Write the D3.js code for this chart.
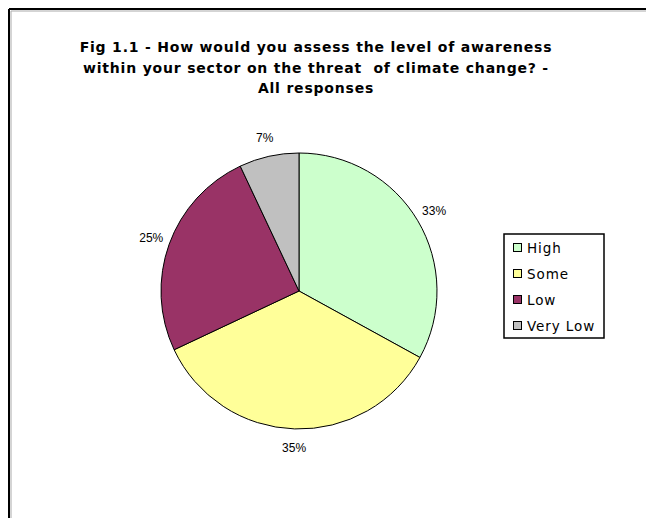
<!DOCTYPE html>
<html>
<head>
<meta charset="utf-8">
<script src="https://cdn.jsdelivr.net/npm/d3@7"></script>
<style>
  body { margin: 0; background: #fff; }
  svg { display: block; }
</style>
</head>
<body>
<div id="chart"></div>
<script>
const categories = ['High', 'Some', 'Low', 'Very Low'];
const values = [33, 35, 25, 7];
const colors = ['#ccffcc', '#ffff99', '#993366', '#c0c0c0'];
const titleLines = [
  'Fig 1.1 - How would you assess the level of awareness',
  'within your sector on the threat  of climate change? -',
  'All responses'
];

const width = 646, height = 518;
const cx = 299, cy = 291, radius = 138;

const svg = d3.select('#chart')
  .append('svg')
  .attr('width', width)
  .attr('height', height);

// chart area frame (only left and top edges show in the crop)
svg.append('line').attr('x1', 9).attr('y1', 9).attr('x2', width).attr('y2', 9)
  .attr('stroke', '#000').attr('stroke-width', 2);
svg.append('line').attr('x1', 9).attr('y1', 9).attr('x2', 9).attr('y2', height)
  .attr('stroke', '#000').attr('stroke-width', 2);
svg.append('line').attr('x1', 11).attr('y1', 11).attr('x2', width).attr('y2', 11)
  .attr('stroke', '#aaa').attr('stroke-width', 1);
svg.append('line').attr('x1', 11).attr('y1', 11).attr('x2', 11).attr('y2', height)
  .attr('stroke', '#aaa').attr('stroke-width', 1);

// Title
svg.append('g')
  .selectAll('text')
  .data(titleLines)
  .join('text')
  .attr('x', 316)
  .attr('y', (d, i) => 52 + i * 20.5)
  .attr('text-anchor', 'middle')
  .style('font-family', 'Verdana, "DejaVu Sans", sans-serif')
  .style('font-weight', 'bold')
  .style('font-size', '14px')
  .style('letter-spacing', '0.8px')
  .style('white-space', 'pre')
  .style('fill', '#000')
  .text(d => d);

// Pie
const data = categories.map((c, i) => ({ category: c, value: values[i], color: colors[i] }));
const pie = d3.pie().sort(null).value(d => d.value);
const arcs = pie(data);
const arc = d3.arc().innerRadius(0).outerRadius(radius);
const labelArc = d3.arc().innerRadius(radius + 19).outerRadius(radius + 19);

const g = svg.append('g').attr('transform', `translate(${cx},${cy})`);

g.selectAll('path')
  .data(arcs)
  .join('path')
  .attr('d', arc)
  .attr('fill', d => d.data.color)
  .attr('stroke', '#000')
  .attr('stroke-width', 1);

g.selectAll('text')
  .data(arcs)
  .join('text')
  .attr('transform', d => `translate(${labelArc.centroid(d)})`)
  .attr('text-anchor', 'middle')
  .attr('dy', '0.35em')
  .style('font-family', '"Liberation Sans", Arial, sans-serif')
  .style('font-size', '12px')
  .style('fill', '#000')
  .text(d => d.data.value + '%');

// Legend
const legend = svg.append('g').attr('transform', 'translate(504,234)');
legend.append('rect')
  .attr('width', 100)
  .attr('height', 104)
  .attr('fill', '#fff')
  .attr('stroke', '#000')
  .attr('stroke-width', 1.5);

const items = legend.selectAll('g.item')
  .data(data)
  .join('g')
  .attr('class', 'item')
  .attr('transform', (d, i) => `translate(9,${14 + i * 26})`);

items.append('rect')
  .attr('x', 0.5)
  .attr('y', -4.5)
  .attr('width', 8)
  .attr('height', 8)
  .attr('fill', d => d.color)
  .attr('stroke', '#000');

items.append('text')
  .attr('x', 14)
  .attr('dy', '0.35em')
  .style('font-family', 'Verdana, "DejaVu Sans", sans-serif')
  .style('font-size', '13.5px')
  .style('letter-spacing', '0.9px')
  .style('fill', '#000')
  .text(d => d.category);
</script>
</body>
</html>
